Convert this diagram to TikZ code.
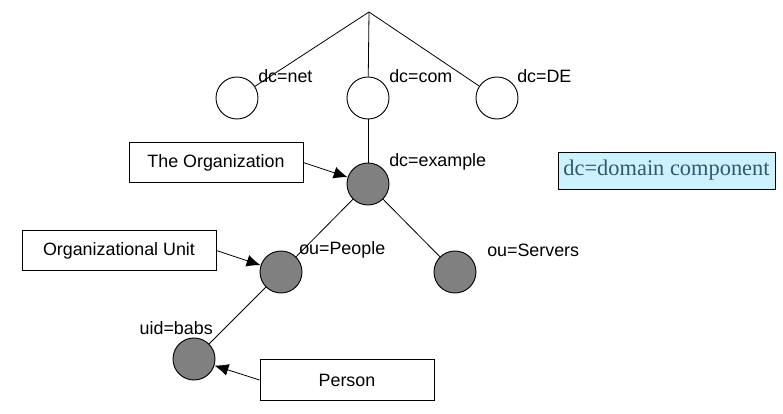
\documentclass[tikz,border=0pt]{standalone}
\usepackage{fontspec}
\setmainfont{Liberation Sans}
\newfontfamily\legendfont{Liberation Serif}
\usetikzlibrary{arrows.meta}
\tikzset{
  entry/.style={circle, draw, line width=0.7pt, minimum size=31.5pt, inner sep=0pt},
  filled/.style={entry, fill=black!50},
  rdn/.style={anchor=west, inner sep=0pt, font=\fontsize{13.4}{15}\selectfont},
  tag/.style={draw, line width=0.7pt, minimum width=130.5pt, minimum height=30.5pt, inner sep=0pt, font=\fontsize{13.4}{15}\selectfont},
  link/.style={line width=0.6pt},
  pointer/.style={line width=0.6pt, -{Latex[length=10.5pt,width=9pt]}}
}
\definecolor{legendfill}{HTML}{CCF2FF}
\definecolor{legendtext}{HTML}{2F5A68}
\begin{document}
\begin{tikzpicture}[x=0.75pt, y=-0.75pt]
  \useasboundingbox (0, 0) rectangle (783, 414);
  % tree
  \coordinate (root) at (369, 12);
  \node[entry] (net) at (237, 98) {};
  \node[entry] (com) at (368, 98) {};
  \node[entry] (de) at (497, 98) {};
  \node[filled] (example) at (368, 184) {};
  \node[filled] (people) at (281, 272) {};
  \node[filled] (servers) at (455, 272) {};
  \node[filled] (babs) at (194, 359) {};

  \draw[link] (root) -- (net);
  \draw[link] (root) -- (com);
  \draw[link] (root) -- (de);
  \draw[link] (com) -- (example);
  \draw[link] (example) -- (people);
  \draw[link] (example) -- (servers);
  \draw[link] (people) -- (babs);

  \node[rdn] (netlbl) at (258, 76) {dc=net};
  \node[rdn] (comlbl) at (389, 76) {dc=com};
  \node[rdn] (delbl) at (517, 76) {dc=DE};
  \node[rdn] (examplelbl) at (389, 162) {dc=example};
  \node[rdn] (peoplelbl) at (299, 250) {ou=People};
  \node[rdn] (serverslbl) at (487, 250) {ou=Servers};
  \node[rdn, anchor=east] (babslbl) at (213, 328) {uid=babs};

  % callouts
  \node[tag] (orgbox) at (216, 162.5) {The Organization};
  \node[tag, minimum width=145.5pt] (unitbox) at (119, 250.5) {Organizational Unit};
  \node[tag] (personbox) at (347, 380) {Person};
  \draw[pointer] (orgbox.east) -- (example);
  \draw[pointer] (unitbox.east) -- (people);
  \draw[pointer] (personbox.west) -- (babs);

  % legend
  \node[draw, line width=0.7pt, fill=legendfill, text=legendtext, minimum width=162.75pt,
    minimum height=27.75pt, inner sep=0pt, font=\legendfont\fontsize{16.8}{18}\selectfont]
    (legend) at (666.5, 170.5) {dc=domain component};
\end{tikzpicture}
\end{document}
